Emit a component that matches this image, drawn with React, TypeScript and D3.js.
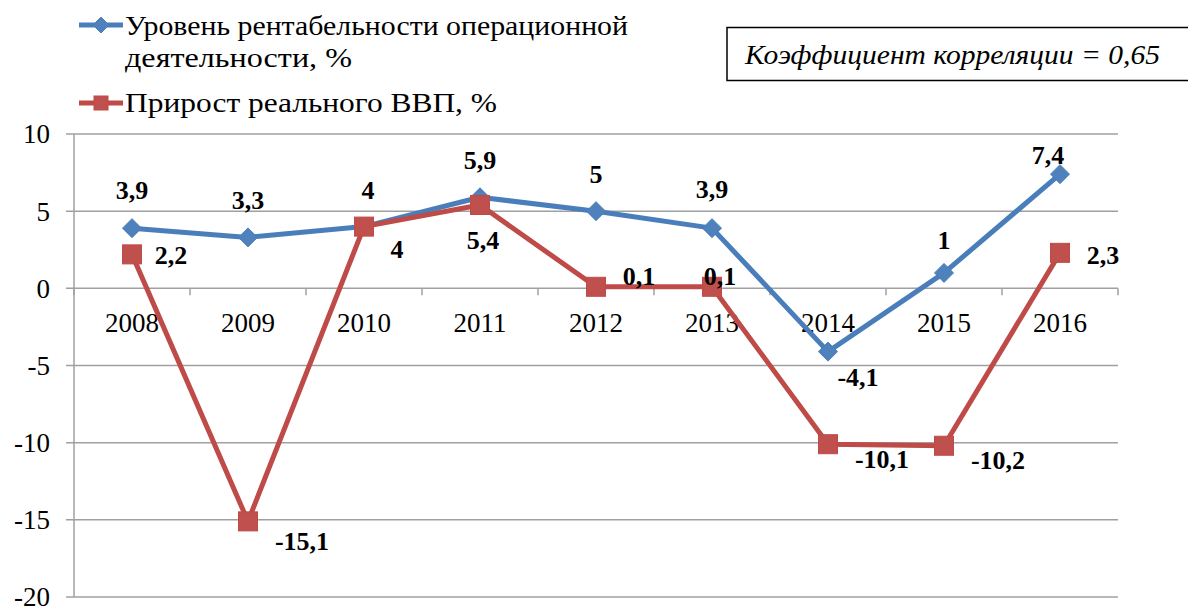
import React, { useEffect } from 'react';
import * as d3 from 'd3';

const width = 1188;
const height = 608;

const years = ['2008', '2009', '2010', '2011', '2012', '2013', '2014', '2015', '2016'];
const profitability = [3.9, 3.3, 4, 5.9, 5, 3.9, -4.1, 1, 7.4];
const gdpGrowth = [2.2, -15.1, 4, 5.4, 0.1, 0.1, -10.1, -10.2, 2.3];
const yTicks = [10, 5, 0, -5, -10, -15, -20];

// label offsets from the marker (dx, dy to baseline)
const blueLabelOffsets = [[0, -29], [0, -28], [4, -28], [0, -28], [0, -28], [0, -30], [30, 34], [0, -24], [-12, -10]];
const redLabelOffsets = [[39, 10], [54, 29], [33, 31], [3, 44], [43, -2], [8, -2], [54, 24], [54, 23], [43, 11]];

const blue = '#4a7ebb';
const blueMarker = '#4f81bd';
const red = '#be4b48';
const redMarker = '#c0504d';
const grid = '#a0a0a0';
const font = 'Liberation Serif, DejaVu Serif, serif';

const fmt = (v: number) => String(v).replace('.', ',');

const App = () => {
  useEffect(() => {
    document.body.style.margin = '0';
  }, []);

  const x = d3.scaleBand().domain(years).range([74, 1118]);
  const y = d3.scaleLinear().domain([-20, 10]).range([597, 134]);
  const cx = (yr: string) => (x(yr) as number) + x.bandwidth() / 2;

  const line = d3.line<number>()
    .x((_, i) => cx(years[i]))
    .y((d) => y(d));

  const diamond = (px: number, py: number, r: number) =>
    `M${px},${py - r}L${px + r},${py}L${px},${py + r}L${px - r},${py}Z`;

  return (
    <svg width={width} height={height} style={{ display: 'block', background: '#fff' }}>
      <g fontFamily={font}>
      {/* grid lines */}
      {yTicks.map((t) => (
        <line key={t} x1={66} x2={1118} y1={y(t)} y2={y(t)} stroke={grid} strokeWidth={1.5} />
      ))}
      {/* y axis */}
      <line x1={74} x2={74} y1={y(10)} y2={y(-20)} stroke={grid} strokeWidth={1.5} />
      {yTicks.map((t) => (
        <text key={t} x={50} y={y(t)} dy="0.35em" textAnchor="end" fontSize={27}>{t}</text>
      ))}
      {/* x axis ticks at zero */}
      {[...years.map((yr) => x(yr) as number), 1118].map((px, i) => (
        <line key={i} x1={px} x2={px} y1={y(0)} y2={y(0) + 7} stroke={grid} strokeWidth={1.5} />
      ))}
      {years.map((yr) => (
        <text key={yr} x={cx(yr)} y={332} textAnchor="middle" fontSize={27}>{yr}</text>
      ))}

      {/* blue series */}
      <path d={line(profitability) || ''} fill="none" stroke={blue} strokeWidth={5} strokeLinejoin="round" />
      {profitability.map((v, i) => (
        <path key={i} d={diamond(cx(years[i]), y(v), 9.5)} fill={blueMarker} stroke={blue} strokeWidth={1} />
      ))}

      {/* red series */}
      <path d={line(gdpGrowth) || ''} fill="none" stroke={red} strokeWidth={5} strokeLinejoin="round" />
      {gdpGrowth.map((v, i) => (
        <rect key={i} x={cx(years[i]) - 9.5} y={y(v) - 9.5} width={19} height={19} fill={redMarker} stroke={red} strokeWidth={1} />
      ))}

      {/* data labels */}
      {profitability.map((v, i) => (
        <text key={i} x={cx(years[i]) + blueLabelOffsets[i][0]} y={y(v) + blueLabelOffsets[i][1]}
          textAnchor="middle" fontSize={26} fontWeight="bold">{fmt(v)}</text>
      ))}
      {gdpGrowth.map((v, i) => (
        <text key={i} x={cx(years[i]) + redLabelOffsets[i][0]} y={y(v) + redLabelOffsets[i][1]}
          textAnchor="middle" fontSize={26} fontWeight="bold">{fmt(v)}</text>
      ))}

      {/* legend */}
      <line x1={79} x2={123} y1={25} y2={25} stroke={blue} strokeWidth={5} />
      <path d={diamond(101, 25, 8)} fill={blueMarker} stroke={blue} strokeWidth={1} />
      <text x={125} y={35} fontSize={27} textLength={503} lengthAdjust="spacingAndGlyphs">Уровень рентабельности операционной</text>
      <text x={125} y={67} fontSize={27} textLength={227} lengthAdjust="spacingAndGlyphs">деятельности, %</text>
      <line x1={79} x2={123} y1={103} y2={103} stroke={red} strokeWidth={5} />
      <rect x={94} y={96} width={14} height={14} fill={redMarker} stroke={red} strokeWidth={1} />
      <text x={125} y={112} fontSize={27} textLength={372} lengthAdjust="spacingAndGlyphs">Прирост реального ВВП, %</text>

      {/* correlation box */}
      <rect x={727} y={27.5} width={470} height={53} fill="#fff" stroke="#000" strokeWidth={1.5} />
      <text x={745} y={64} fontSize={27} fontStyle="italic" textLength={415} lengthAdjust="spacingAndGlyphs">Коэффициент корреляции = 0,65</text>
      </g>
    </svg>
  );
};

export default App;
